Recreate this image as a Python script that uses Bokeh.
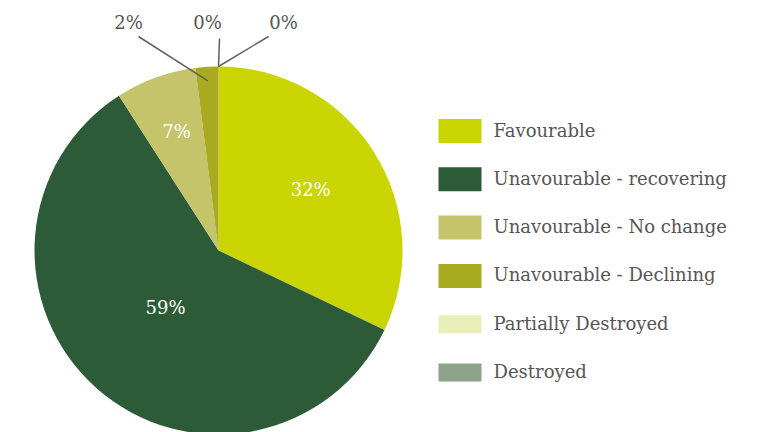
import numpy as np
from bokeh.plotting import figure
from bokeh.models import Range1d, ColumnDataSource
from bokeh.core.properties import value
from bokeh.embed import file_html
from bokeh.resources import INLINE

# ---- data ----
categories = ["Favourable", "Unavourable - recovering", "Unavourable - No change",
              "Unavourable - Declining", "Partially Destroyed", "Destroyed"]
values = [32.1, 58.8, 7.1, 2.0, 0.0, 0.0]
labels = ["32%", "59%", "7%", "2%", "0%", "0%"]
colors = ["#CAD400", "#2D5B37", "#C5C46B", "#A8AA20", "#E8EFB8", "#8FA38B"]

# ---- layout / style ----
W, H = 766, 432
CX, CY, R = 218, 182, 184
FONT = value("DejaVu Serif")
TXT = "#555555"
inside_dist = [109, 80, 123]                          # label distance for big slices
outside_label = [(-90, 228), (-11, 228), (65, 228)]   # label offsets for small slices
outside_start = [(-80, 214), (1, 212), (50, 214)]     # connector start offsets
outside_end_r = [170, 184, 184]

vals = np.array(values, dtype=float)
frac = vals / vals.sum()
cum_after = np.cumsum(frac)
cum_before = cum_after - frac
start = np.pi / 2 - 2 * np.pi * cum_before
end = np.pi / 2 - 2 * np.pi * cum_after
mid = 2 * np.pi * (cum_before + frac / 2)   # clockwise from top

p = figure(width=W, height=H, x_range=Range1d(0, W), y_range=Range1d(0, H),
           output_backend="svg", toolbar_location=None, min_border=0)
p.axis.visible = False
p.grid.visible = False
p.outline_line_color = None
p.background_fill_color = "white"

nz = vals > 0
wsrc = ColumnDataSource(dict(start=start[nz], end=end[nz], color=np.array(colors)[nz]))
p.wedge(x=CX, y=CY, radius=R, radius_units="screen", start_angle="start", end_angle="end",
        direction="clock", fill_color="color", line_color=None, source=wsrc)

# inside labels
ix, iy, it = [], [], []
for i in range(3):
    ix.append(CX + inside_dist[i] * np.sin(mid[i]))
    iy.append(CY + inside_dist[i] * np.cos(mid[i]))
    it.append(labels[i])
p.text(x=ix, y=iy, text=it, text_color="white", text_font=FONT, text_font_size="18px",
       text_align="center", text_baseline="middle", y_offset=-3)

# outside labels with connectors
ox, oy, ot = [], [], []
xs, ys = [], []
for k, i in enumerate(range(3, 6)):
    ox.append(CX + outside_label[k][0])
    oy.append(CY + outside_label[k][1])
    ot.append(labels[i])
    ex = CX + outside_end_r[k] * np.sin(mid[i])
    ey = CY + outside_end_r[k] * np.cos(mid[i])
    xs.append([CX + outside_start[k][0], ex])
    ys.append([CY + outside_start[k][1], ey])
p.multi_line(xs=xs, ys=ys, line_color="#606060", line_width=1.5)
p.text(x=ox, y=oy, text=ot, text_color=TXT, text_font=FONT, text_font_size="18px",
       text_align="center", text_baseline="middle")

# legend
LX, LY0, STEP = 459.5, 301.5, 48.3
sq_h = [24, 24, 24, 24, 18, 18]
ly = [LY0 - STEP * i for i in range(len(categories))]
p.rect(x=[LX] * len(categories), y=ly, width=43, height=sq_h, fill_color=colors,
       line_color=None)
p.text(x=[493] * len(categories), y=ly, text=categories, text_color=TXT, text_font=FONT,
       text_font_size="18px", text_align="left", text_baseline="middle", y_offset=-1)

open("out.html", "w").write(file_html(p, INLINE))
